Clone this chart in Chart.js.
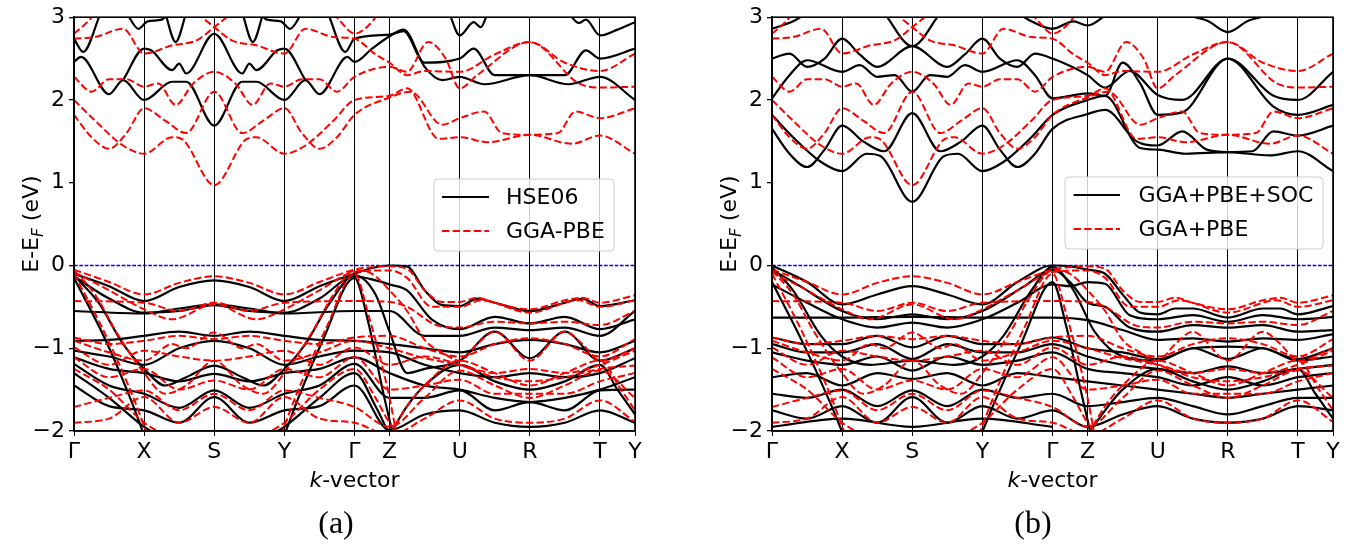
<!DOCTYPE html>
<html>
<head>
<meta charset="utf-8">
<script src="https://cdn.jsdelivr.net/npm/chart.js@4.4.1/dist/chart.umd.min.js"></script>
<style>
  html, body { margin: 0; padding: 0; background: #fff; }
  #wrap { position: relative; width: 1350px; height: 546px; overflow: hidden; }
  canvas { position: absolute; top: 0; }
</style>
</head>
<body>
<div id="wrap">
  <canvas id="panelA" width="675" height="546" style="left:0;width:675px;height:546px"></canvas>
  <canvas id="panelB" width="652" height="546" style="left:698px;width:652px;height:546px"></canvas>
</div>
<script>
// High-symmetry path (k in units of the Γ–X segment length)
const kTicks  = [0, 1, 2, 3, 4, 4.5, 5.5, 6.5, 7.5, 8];
const kLabels = ['Γ', 'X', 'S', 'Y', 'Γ', 'Z', 'U', 'R', 'T', 'Y'];
const energyTicks = [-2, -1, 0, 1, 2, 3];

// Each band: list of [k, E - E_F (eV)] points
const pbeConduction = [
  [[0,2.0],[0.3,1.75],[0.7,1.45],[1,1.35],[1.4,1.55],[1.55,1.52],[2,0.97],[2.45,1.52],[2.6,1.55],[3,1.35],[3.3,1.45],[3.7,1.75],[4,2.0],[4.5,2.05],[4.75,2.14],[5.2,1.53],[5.5,1.55],[5.9,1.49],[6.5,1.58],[7.1,1.47],[7.5,1.57],[8,1.35]],
  [[0,1.82],[0.25,1.55],[0.5,1.41],[0.75,1.6],[1,1.9],[1.3,1.75],[1.6,1.6],[2,2.1],[2.4,1.6],[2.7,1.75],[3,1.9],[3.25,1.6],[3.5,1.41],[3.75,1.55],[4,1.82],[4.5,2.03],[4.8,2.1],[5.25,1.7],[5.5,1.78],[5.85,1.86],[6.1,1.6],[6.5,1.58],[6.9,1.6],[7.15,1.86],[7.5,1.78],[8,1.9]],
  [[0,2.28],[0.25,2.1],[0.5,2.25],[0.75,2.25],[1,2.16],[1.2,2.2],[1.45,1.94],[1.7,2.2],[2,2.34],[2.3,2.2],[2.55,1.94],[2.8,2.2],[3,2.16],[3.25,2.25],[3.5,2.25],[3.75,2.1],[4,2.28],[4.5,2.4],[4.75,2.34],[5.05,2.7],[5.3,2.5],[5.5,2.14],[5.75,2.3],[6.5,2.7],[7.2,2.2],[7.5,2.15],[8,2.16]],
  [[0,2.74],[0.3,2.76],[0.7,2.86],[1,2.56],[1.4,2.66],[1.75,2.72],[2,2.88],[2.25,3.05]],
  [[1.75,3.05],[2,2.88],[2.25,2.72],[2.6,2.66],[3,2.56],[3.3,2.86],[3.7,2.76],[4,2.74],[4.3,2.55],[4.5,2.45],[4.75,2.3],[5,2.35],[5.5,2.34],[6,2.55],[6.5,2.7],[7,2.45],[7.5,2.35],[8,2.56]],
  [[0,2.8],[0.2,2.95],[0.3,3.05]],
  [[3.7,3.05],[3.8,2.95],[4,2.8],[4.2,2.9],[4.35,3.05]]
];

const pbeValence = [
  [[0,-0.05],[0.5,-0.2],[1,-0.35],[1.5,-0.21],[2,-0.13],[2.5,-0.21],[3,-0.35],[3.5,-0.2],[4,-0.05],[4.25,-0.02],[4.5,-0.01],[4.75,-0.04],[5,-0.3],[5.25,-0.44],[5.5,-0.44],[5.75,-0.39],[6,-0.45],[6.5,-0.53],[7,-0.42],[7.25,-0.39],[7.5,-0.45],[8,-0.36]],
  [[0,-0.08],[0.5,-0.3],[1,-0.53],[1.4,-0.65],[2,-0.47],[2.6,-0.65],[3,-0.53],[3.5,-0.3],[4,-0.08],[4.5,-0.06],[4.75,-0.15],[5.1,-0.5],[5.5,-0.5],[5.8,-0.42],[6.5,-0.57],[7.2,-0.42],[7.5,-0.5],[8,-0.42]],
  [[0,-0.43],[1,-0.45],[1.5,-0.55],[2,-0.45],[2.5,-0.55],[3,-0.45],[4,-0.43],[4.5,-0.44],[4.75,-0.5],[5.2,-0.73],[5.5,-0.75],[6,-0.68],[6.5,-0.7],[7,-0.68],[7.5,-0.72],[8,-0.55]],
  [[0,-0.06],[0.3,-0.35],[0.6,-0.8],[1,-1.3],[1.3,-1.55],[1.6,-1.45],[2,-1.15],[2.4,-1.45],[2.7,-1.55],[3,-1.3],[3.4,-0.8],[3.7,-0.35],[4,-0.06],[4.25,-0.1],[4.5,-0.3],[4.75,-0.55],[5,-0.9],[5.25,-1.05],[5.5,-1.15],[5.75,-0.95],[6,-0.8],[6.5,-1.15],[7,-0.8],[7.25,-0.95],[7.5,-1.15],[8,-1.0]],
  [[0,-0.1],[0.4,-0.75],[0.8,-1.5],[1.05,-2.05]],
  [[2.95,-2.05],[3.2,-1.5],[3.6,-0.75],[4,-0.1],[4.2,-0.6],[4.5,-1.6],[4.6,-2.05]],
  [[0,-0.87],[0.5,-0.95],[1,-0.91],[1.5,-0.85],[2,-0.89],[2.5,-0.85],[3,-0.91],[3.5,-0.95],[4,-0.87],[4.5,-0.85],[5,-1.0],[5.5,-1.1],[6,-0.95],[6.5,-0.88],[7,-0.95],[7.5,-1.1],[8,-0.89]],
  [[0,-0.91],[0.5,-1.05],[1,-1.15],[1.4,-0.95],[1.6,-1.0],[2,-0.81],[2.4,-1.0],[2.6,-0.95],[3,-1.15],[3.5,-1.05],[4,-0.91],[4.5,-1.0],[5,-1.12],[5.5,-1.2],[6,-1.3],[6.5,-1.25],[7,-1.3],[7.5,-1.2],[8,-1.03]],
  [[0,-0.99],[0.5,-1.2],[1,-1.03],[1.5,-1.1],[2,-1.15],[2.5,-1.1],[3,-1.03],[3.5,-1.2],[4,-0.99],[4.5,-1.2],[5,-1.1],[5.5,-1.2],[6,-1.35],[6.5,-1.4],[7,-1.35],[7.5,-1.25],[8,-1.21]],
  [[0,-1.11],[0.5,-1.35],[1,-1.25],[1.5,-1.5],[2,-1.39],[2.5,-1.5],[3,-1.25],[3.5,-1.35],[4,-1.11],[4.5,-1.5],[5,-1.45],[5.5,-1.38],[6,-1.55],[6.5,-1.55],[7,-1.55],[7.5,-1.4],[8,-1.3]],
  [[0,-1.71],[0.5,-1.6],[1,-1.51],[1.5,-1.75],[2,-1.55],[2.5,-1.75],[3,-1.51],[3.5,-1.6],[4,-1.71],[4.5,-1.95],[5,-1.6],[5.5,-1.27],[6,-1.45],[6.5,-1.6],[7,-1.45],[7.5,-1.27],[8,-1.6]],
  [[0,-1.9],[0.5,-1.85],[1,-1.59],[1.5,-1.9],[2,-1.71],[2.5,-1.9],[3,-1.59],[3.5,-1.85],[4,-1.9],[4.5,-2.05],[5,-1.85],[5.5,-1.63],[6,-1.85],[6.5,-1.9],[7,-1.85],[7.5,-1.63],[8,-1.89]],
  [[4.5,-2.05],[4.75,-1.7],[5,-1.45],[5.5,-1.15],[6,-1.3],[6.5,-1.45],[7,-1.3],[7.5,-1.15],[7.8,-1.5],[8,-1.75]],
  [[0,-1.25],[0.5,-1.5],[1,-1.9],[1.3,-2.05]],
  [[2.7,-2.05],[3,-1.9],[3.5,-1.5],[4,-1.25],[4.3,-1.6],[4.5,-1.9],[4.7,-2.05]]
];

const hseConduction = [
  [[0,2.46],[0.1,2.52],[0.5,2.07],[0.7,2.24],[1,2.0],[1.4,2.22],[1.6,2.22],[2,1.69],[2.4,2.22],[2.6,2.22],[3,2.0],[3.3,2.24],[3.5,2.07],[3.9,2.52],[4,2.46],[4.25,2.62],[4.5,2.77],[4.7,2.85],[5,2.4],[5.25,2.24],[5.5,2.28],[5.85,2.19],[6.5,2.3],[7.05,2.19],[7.5,2.28],[8,2.0]],
  [[0,2.74],[0.13,2.58],[0.38,3.05]],
  [[0.7,2.24],[1,2.62],[1.1,2.6],[1.4,2.36],[1.5,2.44],[1.6,2.32],[2,2.8],[2.4,2.32],[2.5,2.44],[2.6,2.36],[2.9,2.6],[3,2.62],[3.3,2.24]],
  [[3.62,3.05],[3.87,2.58],[4,2.74],[4.5,2.79],[4.7,2.83],[5,2.45],[5.5,2.5],[5.7,2.62],[6,2.3],[6.5,2.3],[7,2.3],[7.3,2.6],[7.5,2.5],[8,2.62]],
  [[0.75,3.05],[0.92,2.86],[1.05,2.95],[1.25,2.97],[1.35,3.05]],
  [[2.65,3.05],[2.75,2.97],[2.95,2.95],[3.08,2.86],[3.25,3.05]],
  [[1.3,3.05],[1.45,2.7],[1.6,3.05]],
  [[2.4,3.05],[2.55,2.7],[2.7,3.05]],
  [[5.35,3.05],[5.5,2.78],[5.7,2.94],[5.8,2.88],[5.9,3.05]],
  [[7.05,3.05],[7.2,2.93],[7.3,2.97],[7.5,2.78],[7.75,2.85],[8,2.94]]
];

const hseValence = [
  [[0,-0.1],[0.5,-0.25],[1,-0.43],[1.5,-0.26],[2,-0.18],[2.5,-0.26],[3,-0.43],[3.5,-0.25],[4,-0.1],[4.25,-0.03],[4.5,0],[4.75,-0.01],[5,-0.3],[5.25,-0.48],[5.5,-0.49],[5.75,-0.4],[6,-0.45],[6.5,-0.55],[7,-0.45],[7.25,-0.4],[7.5,-0.49],[8,-0.42]],
  [[0,-0.13],[0.5,-0.4],[1,-0.57],[1.5,-0.55],[2,-0.48],[2.5,-0.55],[3,-0.57],[3.5,-0.4],[4,-0.13],[4.3,-0.18],[4.5,-0.23],[4.75,-0.3],[5.1,-0.65],[5.5,-0.77],[6,-0.62],[6.5,-0.7],[7,-0.62],[7.5,-0.77],[8,-0.65]],
  [[0,-0.55],[1,-0.58],[1.5,-0.52],[2,-0.47],[2.5,-0.52],[3,-0.58],[4,-0.55],[4.5,-0.55],[5,-0.85],[5.5,-0.85],[6,-0.75],[6.5,-0.78],[7,-0.75],[7.5,-0.85],[8,-0.55]],
  [[0,-0.12],[0.35,-0.45],[0.7,-0.95],[1,-1.25],[1.3,-1.45],[1.6,-1.35],[2,-1.21],[2.4,-1.35],[2.7,-1.45],[3,-1.25],[3.3,-0.95],[3.65,-0.45],[4,-0.12],[4.3,-0.35],[4.5,-0.8],[4.75,-1.3],[5,-1.25],[5.5,-1.15],[6,-0.8],[6.5,-1.12],[7,-0.8],[7.5,-1.15],[8,-1.0]],
  [[0,-0.15],[0.45,-0.9],[0.8,-1.6],[1,-2.05]],
  [[3,-2.05],[3.2,-1.6],[3.55,-0.9],[4,-0.15],[4.2,-0.7],[4.4,-1.5],[4.55,-2.05]],
  [[0,-0.91],[0.5,-0.9],[1,-0.85],[1.5,-0.8],[2,-0.85],[2.5,-0.8],[3,-0.85],[3.5,-0.9],[4,-0.91],[4.5,-0.95],[5,-1.0],[5.5,-1.05],[6,-0.95],[6.5,-0.9],[7,-0.95],[7.5,-1.05],[8,-0.91]],
  [[0,-1.03],[0.5,-1.1],[1,-1.2],[1.5,-1.0],[2,-0.91],[2.5,-1.0],[3,-1.2],[3.5,-1.1],[4,-1.03],[4.5,-1.05],[5,-1.2],[5.5,-1.3],[6,-1.35],[6.5,-1.3],[7,-1.35],[7.5,-1.3],[8,-1.12]],
  [[0,-1.11],[0.5,-1.25],[1,-1.3],[1.5,-1.4],[2,-1.31],[2.5,-1.4],[3,-1.3],[3.5,-1.25],[4,-1.11],[4.5,-1.3],[5,-1.45],[5.5,-1.5],[6,-1.6],[6.5,-1.65],[7,-1.6],[7.5,-1.5],[8,-1.35]],
  [[0,-1.19],[0.5,-1.45],[1,-1.55],[1.5,-1.72],[2,-1.51],[2.5,-1.72],[3,-1.55],[3.5,-1.45],[4,-1.19],[4.5,-1.6],[5,-1.6],[5.5,-1.51],[6,-1.75],[6.5,-1.65],[7,-1.75],[7.5,-1.51],[8,-1.5]],
  [[0,-1.45],[0.5,-1.7],[1,-1.75],[1.5,-1.9],[2,-1.59],[2.5,-1.9],[3,-1.75],[3.5,-1.7],[4,-1.45],[4.5,-1.99],[5,-1.8],[5.5,-1.75],[6,-1.9],[6.5,-1.95],[7,-1.9],[7.5,-1.75],[8,-1.9]],
  [[4.5,-2.05],[4.75,-1.7],[5,-1.45],[5.5,-1.2],[6,-1.4],[6.5,-1.5],[7,-1.4],[7.5,-1.2],[7.75,-1.5],[8,-1.8]],
  [[0,-1.3],[0.5,-1.6],[1,-1.95],[1.2,-2.05]],
  [[2.8,-2.05],[3,-1.95],[3.5,-1.6],[4,-1.3],[4.3,-1.7],[4.5,-2.05]]
];

const socConduction = [
  [[0,1.82],[0.3,1.55],[0.7,1.25],[1,1.14],[1.35,1.35],[1.55,1.32],[2,0.77],[2.45,1.32],[2.65,1.35],[3,1.14],[3.3,1.25],[3.7,1.55],[4,1.82],[4.5,2.0],[4.75,2.05],[5.25,1.42],[5.5,1.4],[5.9,1.35],[6.5,1.37],[7.1,1.33],[7.5,1.38],[8,1.14]],
  [[0,1.65],[0.25,1.35],[0.5,1.19],[0.75,1.4],[1,1.69],[1.3,1.5],[1.6,1.38],[2,1.84],[2.4,1.38],[2.7,1.5],[3,1.69],[3.25,1.4],[3.5,1.19],[3.75,1.35],[4,1.65],[4.5,1.83],[4.75,1.88],[5.2,1.5],[5.5,1.45],[5.85,1.62],[6.2,1.4],[6.5,1.37],[6.85,1.38],[7.15,1.62],[7.5,1.57],[8,1.69]],
  [[0,2.02],[0.25,2.3],[0.5,2.48],[1,2.34],[1.25,2.42],[1.5,2.28],[1.75,2.3],[2,2.1],[2.25,2.3],[2.5,2.28],[2.75,2.42],[3,2.34],[3.5,2.48],[3.75,2.3],[4,2.02],[4.5,2.08],[4.75,2.05],[5,2.45],[5.25,2.2],[5.5,1.82],[5.85,1.85],[6.5,2.5],[7.15,1.92],[7.5,1.82],[8,1.94]],
  [[0,2.5],[0.25,2.56],[0.5,2.4],[0.75,2.5],[1,2.74],[1.25,2.55],[1.5,2.4],[2,2.65],[2.5,2.4],[2.75,2.55],[3,2.74],[3.25,2.5],[3.5,2.4],[3.75,2.56],[4,2.5],[4.5,2.3],[4.75,2.15],[5.1,2.35],[5.5,2.06],[5.85,2.0],[6.5,2.5],[7.15,2.05],[7.5,2.0],[8,2.34]],
  [[0,2.86],[0.3,2.95],[0.5,3.05]],
  [[3.5,3.05],[3.7,2.95],[4,2.86],[4.3,2.95],[4.5,2.9],[4.8,3.05]],
  [[5.7,3.05],[6.2,2.96],[6.5,2.82],[6.8,2.96],[7.3,3.05]],
  [[1.6,3.05],[2,2.65],[2.4,3.05]]
];

const socValence = [
  [[0,0],[0.5,-0.2],[1,-0.47],[1.5,-0.35],[2,-0.25],[2.5,-0.35],[3,-0.47],[3.5,-0.2],[4,0],[4.25,-0.01],[4.5,-0.05],[4.75,-0.1],[5,-0.35],[5.25,-0.57],[5.5,-0.59],[5.75,-0.52],[6,-0.52],[6.5,-0.63],[7,-0.52],[7.25,-0.52],[7.5,-0.59],[8,-0.49]],
  [[0,-0.05],[0.4,-0.25],[1,-0.55],[1.5,-0.65],[2,-0.59],[2.5,-0.65],[3,-0.55],[3.6,-0.25],[4,-0.05],[4.25,-0.2],[4.5,-0.45],[4.75,-0.5],[5.1,-0.75],[5.5,-0.8],[6,-0.72],[6.5,-0.75],[7,-0.72],[7.5,-0.8],[8,-0.78]],
  [[0,-0.63],[1,-0.63],[2,-0.62],[3,-0.63],[4,-0.63],[4.5,-0.66],[5,-0.78],[5.5,-0.9],[6,-0.88],[6.5,-0.92],[7,-0.88],[7.5,-0.9],[8,-0.83]],
  [[0,-0.02],[0.3,-0.3],[0.7,-0.85],[1,-1.1],[1.4,-1.2],[2,-1.15],[2.6,-1.2],[3,-1.1],[3.3,-0.85],[3.7,-0.3],[4,-0.02],[4.3,-0.3],[4.6,-0.8],[5,-1.1],[5.5,-1.15],[6,-1.0],[6.5,-1.13],[7,-1.0],[7.5,-1.15],[8,-1.1]],
  [[0,-0.2],[0.45,-0.95],[0.8,-1.6],[1.02,-2.05]],
  [[2.98,-2.05],[3.2,-1.6],[3.55,-0.95],[4,-0.2],[4.2,-0.75],[4.4,-1.5],[4.55,-2.05]],
  [[0,-0.87],[0.5,-0.95],[1,-0.95],[1.5,-0.85],[2,-0.99],[2.5,-0.85],[3,-0.95],[3.5,-0.95],[4,-0.87],[4.5,-1.0],[5,-1.05],[5.5,-1.13],[6,-1.0],[6.5,-0.98],[7,-1.0],[7.5,-1.13],[8,-1.0]],
  [[0,-0.95],[0.5,-1.05],[1,-1.05],[1.5,-0.95],[2,-1.13],[2.5,-0.95],[3,-1.05],[3.5,-1.05],[4,-0.95],[4.5,-1.1],[5,-1.2],[5.5,-1.25],[6,-1.3],[6.5,-1.22],[7,-1.3],[7.5,-1.25],[8,-1.2]],
  [[0,-1.05],[0.5,-1.15],[1,-1.2],[1.5,-1.1],[2,-1.27],[2.5,-1.1],[3,-1.2],[3.5,-1.15],[4,-1.05],[4.5,-1.25],[5,-1.3],[5.5,-1.35],[6,-1.45],[6.5,-1.35],[7,-1.45],[7.5,-1.35],[8,-1.3]],
  [[0,-1.35],[0.5,-1.3],[1,-1.45],[1.5,-1.3],[2,-1.37],[2.5,-1.3],[3,-1.45],[3.5,-1.3],[4,-1.35],[4.5,-1.4],[5,-1.45],[5.5,-1.5],[6,-1.55],[6.5,-1.6],[7,-1.55],[7.5,-1.5],[8,-1.45]],
  [[0,-1.55],[0.5,-1.6],[1,-1.5],[1.5,-1.7],[2,-1.51],[2.5,-1.7],[3,-1.5],[3.5,-1.6],[4,-1.55],[4.5,-1.7],[5,-1.65],[5.5,-1.6],[6,-1.7],[6.5,-1.8],[7,-1.7],[7.5,-1.6],[8,-1.6]],
  [[0,-1.75],[0.5,-1.85],[1,-1.7],[1.5,-1.9],[2,-1.59],[2.5,-1.9],[3,-1.7],[3.5,-1.85],[4,-1.75],[4.5,-1.95],[5,-1.8],[5.5,-1.7],[6,-1.85],[6.5,-1.9],[7,-1.85],[7.5,-1.7],[8,-1.75]],
  [[4.5,-2.05],[4.75,-1.75],[5,-1.5],[5.5,-1.25],[6,-1.4],[6.5,-1.5],[7,-1.4],[7.5,-1.25],[7.75,-1.55],[8,-1.85]],
  [[0,-1.95],[1,-1.85],[2,-1.95],[3,-1.85],[4,-1.95]],
  [[0,-0.23],[0.5,-0.45],[1,-0.65],[1.5,-0.75],[2,-0.69],[2.5,-0.75],[3,-0.65],[3.5,-0.45],[4,-0.23],[4.25,-0.25],[4.5,-0.2],[4.75,-0.22],[5.1,-0.6],[5.5,-0.65],[6,-0.6],[6.5,-0.68],[7,-0.6],[7.5,-0.65],[8,-0.62]]
];

const fermiLevel = [[0, 0], [8, 0]];

const FONT = 'DejaVu Sans';
const RED_DASH = [7.4, 3.2];

function bandDatasets(bands, color, dash, width) {
  return bands.map(b => ({
    data: b.map(([k, e]) => ({ x: k, y: e })),
    borderColor: color,
    backgroundColor: color,
    borderWidth: width,
    borderDash: dash,
    pointRadius: 0,
    fill: false,
    cubicInterpolationMode: 'monotone'
  }));
}

function decorations(cfg) {
  return {
    id: 'decorations',
    afterDraw(chart) {
      const ctx = chart.ctx;
      const a = chart.chartArea;
      ctx.save();
      // axes frame
      ctx.strokeStyle = '#000';
      ctx.lineWidth = 1.6;
      ctx.strokeRect(a.left, a.top, a.right - a.left, a.bottom - a.top);

      // y-axis title: E-E_F (eV)
      ctx.fillStyle = '#000';
      ctx.textBaseline = 'alphabetic';
      ctx.textAlign = 'left';
      const main = '22px "' + FONT + '"';
      const sub = 'italic 15.4px "' + FONT + '"';
      ctx.font = main; const w1 = ctx.measureText('E-E').width;
      ctx.font = sub; const w2 = ctx.measureText('F').width;
      ctx.font = main; const w3 = ctx.measureText(' (eV)').width;
      const total = w1 + w2 + w3;
      ctx.translate(cfg.yTitleX, (a.top + a.bottom) / 2);
      ctx.rotate(-Math.PI / 2);
      let u = -total / 2;
      ctx.font = main; ctx.fillText('E-E', u, 0); u += w1;
      ctx.font = sub; ctx.fillText('F', u, 4.5); u += w2;
      ctx.font = main; ctx.fillText(' (eV)', u, 0);
      ctx.setTransform(1, 0, 0, 1, 0, 0);

      // x-axis title: k-vector (k in italics)
      const kFont = 'italic 22px "' + FONT + '"';
      ctx.font = kFont; const wk = ctx.measureText('k').width;
      ctx.font = main; const wr = ctx.measureText('-vector').width;
      const x0 = (a.left + a.right) / 2 - (wk + wr) / 2;
      ctx.font = kFont; ctx.fillText('k', x0, cfg.xTitleY);
      ctx.font = main; ctx.fillText('-vector', x0 + wk, cfg.xTitleY);

      // legend box
      const L = cfg.legend;
      ctx.beginPath();
      if (ctx.roundRect) ctx.roundRect(L.x, L.y, L.w, L.h, 4); else ctx.rect(L.x, L.y, L.w, L.h);
      ctx.fillStyle = 'rgba(255,255,255,0.8)';
      ctx.fill();
      ctx.strokeStyle = '#cccccc';
      ctx.lineWidth = 1;
      ctx.stroke();
      L.rows.forEach(r => {
        ctx.beginPath();
        ctx.setLineDash(r.dash);
        ctx.strokeStyle = r.color;
        ctx.lineWidth = 2.2;
        ctx.moveTo(L.lineX0, r.y);
        ctx.lineTo(L.lineX1, r.y);
        ctx.stroke();
        ctx.setLineDash([]);
        ctx.fillStyle = '#000';
        ctx.font = main;
        ctx.textBaseline = 'middle';
        ctx.fillText(r.text, L.textX, r.y + 1);
      });

      // sub-figure caption
      ctx.textBaseline = 'alphabetic';
      ctx.textAlign = 'center';
      ctx.font = '32px "Liberation Serif"';
      ctx.fillText(cfg.caption, cfg.captionX, cfg.captionY);
      ctx.restore();
    }
  };
}

function makePanel(id, width, blackConduction, blackValence, cfg) {
  const datasets = [
    ...bandDatasets(pbeConduction, '#ff0000', RED_DASH, 2),
    ...bandDatasets(pbeValence, '#ff0000', RED_DASH, 2),
    ...bandDatasets(blackConduction, '#000000', [], 2.2),
    ...bandDatasets(blackValence, '#000000', [], 2.2),
    {
      data: fermiLevel.map(([k, e]) => ({ x: k, y: e })),
      borderColor: 'rgb(0,0,255)', backgroundColor: 'rgb(0,0,255)',
      borderWidth: 1.3, borderDash: [3.7, 1.6],
      pointRadius: 0, fill: false
    }
  ];
  return new Chart(document.getElementById(id), {
    type: 'line',
    data: { datasets },
    options: {
      responsive: false,
      animation: false,
      devicePixelRatio: 1,
      events: [],
      layout: { padding: { left: 0, right: width - 635, top: 13, bottom: 0 } },
      plugins: { legend: { display: false }, tooltip: { enabled: false } },
      scales: {
        x: {
          type: 'linear', min: 0, max: 8,
          afterBuildTicks: s => { s.ticks = kTicks.map(v => ({ value: v })); },
          afterFit: s => { s.height = 115; },
          ticks: {
            callback: v => kLabels[kTicks.indexOf(v)],
            autoSkip: false, maxRotation: 0, minRotation: 0,
            font: { family: FONT, size: 22 }, color: '#000', padding: 3
          },
          grid: { color: '#000', lineWidth: 1, tickLength: 5, drawOnChartArea: true },
          border: { display: true, color: '#000', width: 1.6 }
        },
        y: {
          min: -2, max: 3,
          afterBuildTicks: s => { s.ticks = energyTicks.map(v => ({ value: v })); },
          afterFit: s => { s.width = 74; },
          ticks: {
            callback: v => (v < 0 ? '\u2212' + Math.abs(v) : String(v)),
            font: { family: FONT, size: 22 }, color: '#000', padding: 4
          },
          grid: { color: '#000', lineWidth: 1.3, tickLength: 5, drawOnChartArea: false },
          border: { display: true, color: '#000', width: 1.6 }
        }
      }
    },
    plugins: [decorations(cfg)]
  });
}

makePanel('panelA', 675, hseConduction, hseValence, {
  yTitleX: 38, xTitleY: 487, caption: '(a)', captionX: 336, captionY: 533,
  legend: {
    x: 434, y: 179, w: 180, h: 72, lineX0: 442, lineX1: 489, textX: 506,
    rows: [
      { text: 'HSE06', color: '#000', dash: [], y: 197 },
      { text: 'GGA-PBE', color: '#ff0000', dash: RED_DASH, y: 231 }
    ]
  }
});

makePanel('panelB', 652, socConduction, socValence, {
  yTitleX: 38, xTitleY: 487, caption: '(b)', captionX: 335, captionY: 533,
  legend: {
    x: 367, y: 177, w: 258, h: 72, lineX0: 375.6, lineX1: 422, textX: 440.5,
    rows: [
      { text: 'GGA+PBE+SOC', color: '#000', dash: [], y: 195 },
      { text: 'GGA+PBE', color: '#ff0000', dash: RED_DASH, y: 229 }
    ]
  }
});
</script>
</body>
</html>
